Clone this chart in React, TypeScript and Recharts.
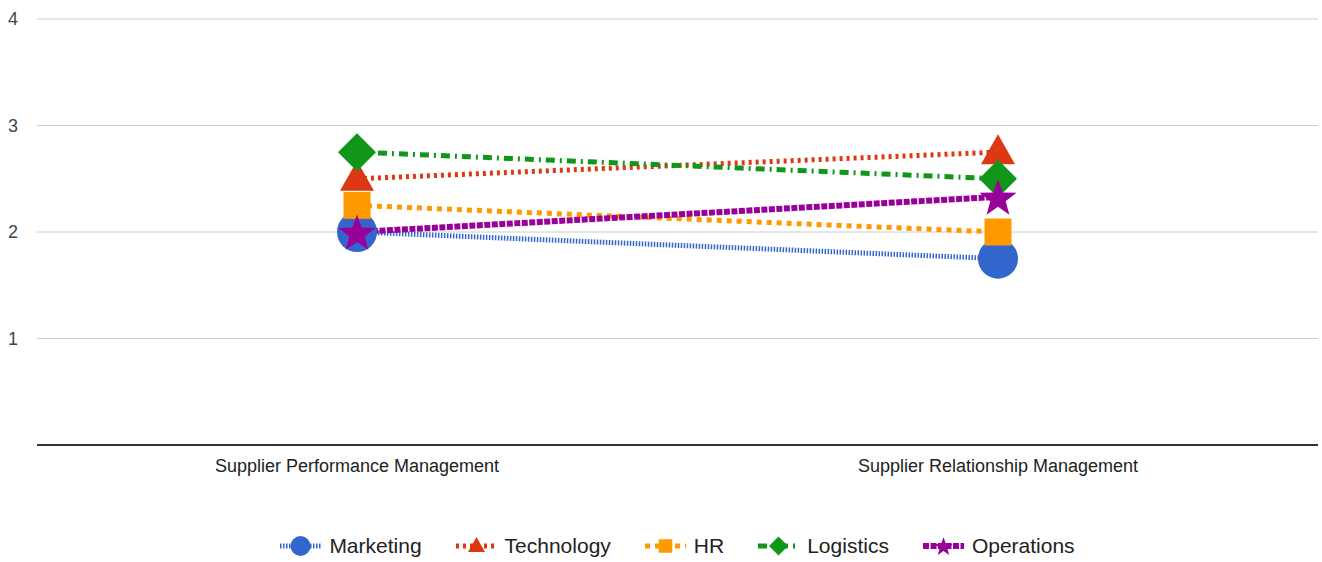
import React from "react";
import { LineChart, Line, XAxis, YAxis, CartesianGrid } from "recharts";

// categories and series values
const categories = ["Supplier Performance Management", "Supplier Relationship Management"];
const marketing = [2, 1.75];
const technology = [2.5, 2.75];
const hr = [2.25, 2.0];
const logistics = [2.75, 2.5];
const operations = [2.0, 2.33];
const yTicks = [0, 1, 2, 3, 4];

const data = categories.map((name, i) => ({
  name,
  Marketing: marketing[i],
  Technology: technology[i],
  HR: hr[i],
  Logistics: logistics[i],
  Operations: operations[i],
}));

type Shape = "circle" | "triangle" | "square" | "diamond" | "star";

const FONT = "Arial, 'Liberation Sans', sans-serif";

const SERIES: { key: string; color: string; dash: string; width: number; shape: Shape }[] = [
  { key: "Marketing", color: "#3366cc", dash: "1.5 1.5", width: 5, shape: "circle" },
  { key: "Technology", color: "#dc3912", dash: "3 4", width: 5, shape: "triangle" },
  { key: "HR", color: "#ff9900", dash: "5 5", width: 5, shape: "square" },
  { key: "Logistics", color: "#109618", dash: "9 5 2 5", width: 5, shape: "diamond" },
  { key: "Operations", color: "#990099", dash: "6 1.5", width: 6, shape: "star" },
];

function markerEl(shape: Shape, cx: number, cy: number, s: number, color: string) {
  switch (shape) {
    case "circle":
      return <circle cx={cx} cy={cy} r={20 * s} fill={color} />;
    case "triangle":
      return (
        <polygon
          points={`${cx},${cy - 18 * s} ${cx + 17 * s},${cy + 12 * s} ${cx - 17 * s},${cy + 12 * s}`}
          fill={color}
        />
      );
    case "square":
      return <rect x={cx - 13.5 * s} y={cy - 13.5 * s} width={27 * s} height={27 * s} fill={color} />;
    case "diamond":
      return (
        <polygon
          points={`${cx},${cy - 19 * s} ${cx + 19 * s},${cy} ${cx},${cy + 19 * s} ${cx - 19 * s},${cy}`}
          fill={color}
        />
      );
    case "star": {
      const pts: string[] = [];
      const R = 19.5 * s;
      const r = 8 * s;
      for (let k = 0; k < 10; k++) {
        const rad = k % 2 === 0 ? R : r;
        const a = -Math.PI / 2 + (k * Math.PI) / 5;
        pts.push(`${cx + rad * Math.cos(a)},${cy + 2 * s + rad * Math.sin(a)}`);
      }
      return <polygon points={pts.join(" ")} fill={color} />;
    }
  }
}

function makeDot(shape: Shape, color: string) {
  return (props: any) => {
    const { cx, cy, index } = props;
    if (cx == null || cy == null) return <g key={index} />;
    return <g key={`${shape}-${index}`}>{markerEl(shape, cx, cy, 1, color)}</g>;
  };
}

// legend is centred on the plot area, not the whole chart
function LegendRow() {
  return (
    <div
      style={{
        position: "absolute",
        top: 533,
        left: 37,
        width: 1281,
        display: "flex",
        justifyContent: "center",
        alignItems: "center",
        fontFamily: FONT,
        fontSize: 21,
        color: "#222",
      }}
    >
      {SERIES.map((s, i) => (
        <div
          key={s.key}
          style={{ display: "flex", alignItems: "center", marginLeft: i === 0 ? 0 : 34 }}
        >
          <svg width={41} height={26}>
            <line x1={0} y1={13} x2={41} y2={13} stroke={s.color} strokeWidth={s.width} strokeDasharray={s.dash} />
            {markerEl(s.shape, 20.5, 13, 0.5, s.color)}
          </svg>
          <span style={{ marginLeft: 8 }}>{s.key}</span>
        </div>
      ))}
    </div>
  );
}

export default function App() {
  return (
    <div style={{ position: "absolute", top: 0, left: 0, width: 1322, height: 562, background: "#fff" }}>
      <LineChart
        width={1322}
        height={562}
        data={data}
        margin={{ top: 19, right: 4, bottom: 0, left: 0 }}
      >
        <CartesianGrid vertical={false} stroke="#cccccc" strokeWidth={1} />
        <XAxis
          dataKey="name"
          padding={{ left: 320, right: 320 }}
          axisLine={{ stroke: "#333333", strokeWidth: 2 }}
          tickLine={false}
          tickSize={0}
          tickMargin={14}
          height={117}
          tick={{ fill: "#222222", fontSize: 18, fontFamily: FONT }}
          interval={0}
        />
        <YAxis
          domain={[0, 4]}
          ticks={yTicks}
          tickFormatter={(v) => (v === 0 ? "" : String(v))}
          axisLine={false}
          tickLine={false}
          tickSize={0}
          tickMargin={19}
          width={37}
          tick={{ fill: "#444444", fontSize: 18, fontFamily: FONT }}
        />
        {SERIES.map((s) => (
          <Line
            key={s.key}
            dataKey={s.key}
            type="linear"
            stroke={s.color}
            strokeWidth={s.width}
            strokeDasharray={s.dash}
            dot={makeDot(s.shape, s.color)}
            activeDot={false}
            isAnimationActive={false}
          />
        ))}
      </LineChart>
      <LegendRow />
    </div>
  );
}
